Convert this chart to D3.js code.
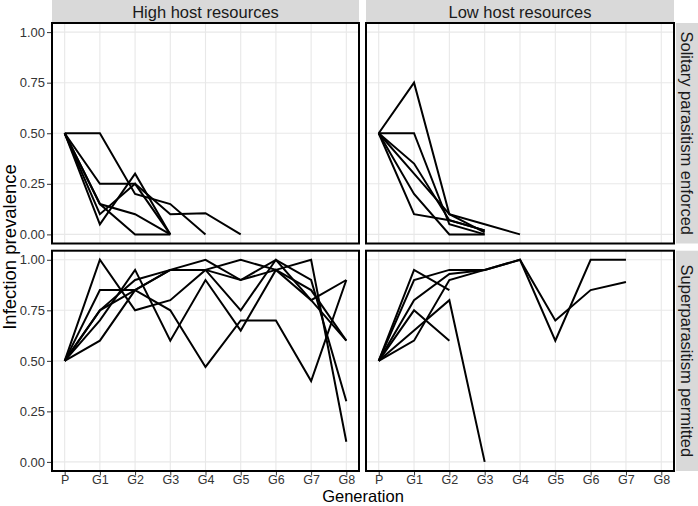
<!DOCTYPE html>
<html>
<head>
<meta charset="utf-8">
<script src="https://cdn.jsdelivr.net/npm/d3@7"></script>
<style>
  body { margin: 0; background: #fff; }
  svg { display: block; font-family: "Liberation Sans", Arial, sans-serif; }
</style>
</head>
<body>
<svg id="chart" width="698" height="506"></svg>
<script>
// ---------- data ----------
const generations = ["P", "G1", "G2", "G3", "G4", "G5", "G6", "G7", "G8"];
const yTicks = [0, 0.25, 0.5, 0.75, 1.0];
const columnLabels = ["High host resources", "Low host resources"];
const rowLabels = ["Solitary parasitism enforced", "Superparasitism permitted"];

// each replicate line: prevalence per generation starting at P
const highSolitary = [
  [0.5, 0.5, 0.2, 0.15, 0],
  [0.5, 0.25, 0.25, 0.1, 0.105, 0],
  [0.5, 0.05, 0.3, 0],
  [0.5, 0.1, 0.25, 0],
  [0.5, 0.15, 0.1, 0],
  [0.5, 0.15, 0, 0]
];
const lowSolitary = [
  [0.5, 0.75, 0.1, 0.05, 0],
  [0.5, 0.5, 0.05, 0],
  [0.5, 0.35, 0.07, 0.02],
  [0.5, 0.3, 0.1, 0.01],
  [0.5, 0.2, 0, 0],
  [0.5, 0.1, 0.07, 0.02]
];
const highSuper = [
  [0.5, 1.0, 0.75, 0.8, 0.95, 1.0, 0.95, 0.8, 0.6],
  [0.5, 0.85, 0.85, 0.95, 0.95, 0.9, 1.0, 0.9, 0.3],
  [0.5, 0.6, 0.85, 0.95, 1.0, 0.9, 0.95, 1.0, 0.1],
  [0.5, 0.7, 0.95, 0.6, 0.9, 0.65, 0.95, 0.85, 0.6],
  [0.5, 0.75, 0.85, 0.75, 0.47, 0.7, 0.7, 0.4, 0.9],
  [0.5, 0.75, 0.9, 0.95, 0.95, 0.75, 1.0, 0.8, 0.9]
];
const lowSuper = [
  [0.5, 0.95, 0.85],
  [0.5, 0.9, 0.95, 0.95, 1.0, 0.6, 1.0, 1.0],
  [0.5, 0.8, 0.93, 0.95, 1.0, 0.7, 0.85, 0.89],
  [0.5, 0.6, 0.9, 0.95],
  [0.5, 0.75, 0.6],
  [0.5, 0.65, 0.8, 0]
];

const panelData = [[highSolitary, lowSolitary], [highSuper, lowSuper]];

// ---------- layout ----------
const svg = d3.select("#chart");
const colX = [[52, 359], [366, 674]];
const rowY = [[23, 243.5], [250.7, 471]];
const stripTop = [0, 22];
const stripRight = [676, 698];

const fmt = d3.format(".2f");

for (let r = 0; r < 2; r++) {
  for (let c = 0; c < 2; c++) {
    const [x0, x1] = colX[c];
    const [y0, y1] = rowY[r];
    const x = d3.scalePoint().domain(generations).range([x0, x1]).padding(0.36);
    const y = d3.scaleLinear().domain([-0.045, 1.045]).range([y1, y0]);
    const g = svg.append("g");

    g.append("rect").attr("x", x0).attr("y", y0).attr("width", x1 - x0).attr("height", y1 - y0)
      .attr("fill", "#fff");
    g.selectAll(".hg").data(yTicks).enter().append("line")
      .attr("x1", x0).attr("x2", x1).attr("y1", d => y(d)).attr("y2", d => y(d))
      .attr("stroke", "#e8e8e8").attr("stroke-width", 1.1);
    g.selectAll(".vg").data(generations).enter().append("line")
      .attr("y1", y0).attr("y2", y1).attr("x1", d => x(d)).attr("x2", d => x(d))
      .attr("stroke", "#e8e8e8").attr("stroke-width", 1.1);

    const line = d3.line().x((d, i) => x(generations[i])).y(d => y(d));
    g.selectAll(".ln").data(panelData[r][c]).enter().append("path")
      .attr("d", d => line(d))
      .attr("fill", "none").attr("stroke", "#000").attr("stroke-width", 2)
      .attr("stroke-linejoin", "miter");

    g.append("rect").attr("x", x0).attr("y", y0).attr("width", x1 - x0).attr("height", y1 - y0)
      .attr("fill", "none").attr("stroke", "#000").attr("stroke-width", 2);

    if (c === 0) {
      const ay = g.append("g").attr("transform", `translate(${x0 - 1},0)`)
        .call(d3.axisLeft(y).tickValues(yTicks).tickFormat(fmt).tickSize(4).tickPadding(2));
      ay.select(".domain").remove();
      ay.selectAll("line").attr("stroke", "#333").attr("stroke-width", 1);
      ay.selectAll("text").attr("fill", "#333").style("font-size", "13px")
        .style("font-family", "Liberation Sans, Arial, sans-serif");
    }
    if (r === 1) {
      const ax = g.append("g").attr("transform", `translate(0,${y1 + 1})`)
        .call(d3.axisBottom(x).tickSize(3.5).tickPadding(0));
      ax.select(".domain").remove();
      ax.selectAll("line").attr("stroke", "#333").attr("stroke-width", 1);
      ax.selectAll("text").attr("fill", "#333").style("font-size", "12.5px")
        .style("font-family", "Liberation Sans, Arial, sans-serif");
    }

    if (r === 0) {
      svg.append("rect").attr("x", x0).attr("y", stripTop[0]).attr("width", x1 - x0)
        .attr("height", stripTop[1] - stripTop[0]).attr("fill", "#d9d9d9");
      svg.append("text").attr("x", (x0 + x1) / 2).attr("y", (stripTop[0] + stripTop[1]) / 2 + 1)
        .attr("text-anchor", "middle").attr("dominant-baseline", "central")
        .attr("fill", "#1a1a1a").style("font-size", "16.5px").text(columnLabels[c]);
    }
    if (c === 1) {
      svg.append("rect").attr("x", stripRight[0]).attr("y", y0).attr("width", stripRight[1] - stripRight[0])
        .attr("height", y1 - y0).attr("fill", "#d9d9d9");
      const cx = (stripRight[0] + stripRight[1]) / 2, cy = (y0 + y1) / 2;
      svg.append("text").attr("transform", `translate(${cx},${cy}) rotate(90)`)
        .attr("text-anchor", "middle").attr("dominant-baseline", "central")
        .attr("fill", "#1a1a1a").style("font-size", "16.5px").text(rowLabels[r]);
    }
  }
}

svg.append("text").attr("x", (colX[0][0] + colX[1][1]) / 2).attr("y", 502)
  .attr("text-anchor", "middle").attr("fill", "#000").style("font-size", "16.5px").text("Generation");
svg.append("text").attr("transform", `translate(16,${(rowY[0][0] + rowY[1][1]) / 2}) rotate(-90)`)
  .attr("text-anchor", "middle").attr("fill", "#000").style("font-size", "18.5px").text("Infection prevalence");
</script>
</body>
</html>
